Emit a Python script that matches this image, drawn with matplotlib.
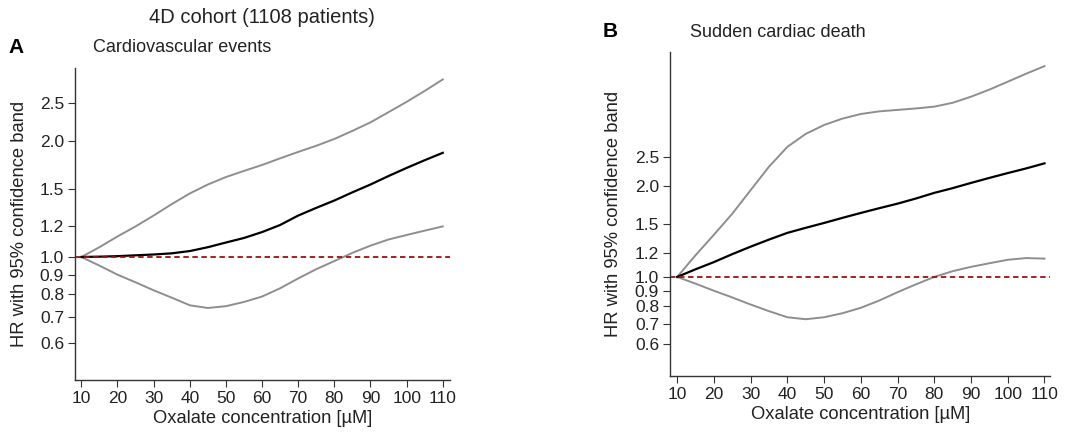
import numpy as np
import matplotlib
matplotlib.use('Agg')
import matplotlib.pyplot as plt

plt.rcParams['font.family'] = ['Liberation Sans', 'DejaVu Sans']

# oxalate concentration (uM)
oxalate = [10, 15, 20, 25, 30, 35, 40, 45, 50, 55, 60, 65, 70, 75, 80, 85, 90, 95, 100, 105, 110]

# A: cardiovascular events
cv_hr = [1.0, 1.002, 1.005, 1.01, 1.015, 1.022, 1.036, 1.06, 1.09, 1.12, 1.16,
         1.21, 1.28, 1.34, 1.40, 1.47, 1.54, 1.62, 1.70, 1.78, 1.86]
cv_upper = [1.0, 1.06, 1.13, 1.20, 1.28, 1.37, 1.46, 1.54, 1.61, 1.67, 1.73,
            1.80, 1.87, 1.94, 2.02, 2.12, 2.23, 2.37, 2.52, 2.69, 2.88]
cv_lower = [1.0, 0.95, 0.90, 0.86, 0.82, 0.785, 0.75, 0.738, 0.746, 0.765, 0.79,
            0.83, 0.88, 0.93, 0.976, 1.025, 1.07, 1.11, 1.14, 1.17, 1.20]

# B: sudden cardiac death
scd_hr = [1.0, 1.06, 1.12, 1.19, 1.26, 1.33, 1.40, 1.455, 1.51, 1.57, 1.63,
          1.69, 1.75, 1.82, 1.90, 1.97, 2.05, 2.13, 2.21, 2.29, 2.38]
scd_upper = [1.0, 1.18, 1.38, 1.62, 1.94, 2.32, 2.70, 2.98, 3.19, 3.35, 3.47,
             3.54, 3.58, 3.62, 3.67, 3.78, 3.96, 4.18, 4.44, 4.72, 5.0]
scd_lower = [1.0, 0.95, 0.90, 0.855, 0.81, 0.77, 0.735, 0.724, 0.735, 0.758, 0.79,
             0.835, 0.89, 0.945, 1.0, 1.045, 1.08, 1.11, 1.14, 1.155, 1.15]

yticks = [0.6, 0.7, 0.8, 0.9, 1.0, 1.2, 1.5, 2.0, 2.5]
xticks = list(range(10, 111, 10))

fig = plt.figure(figsize=(10.74, 4.37), dpi=100)
axA = fig.add_axes([0.070, 0.130, 0.349, 0.714])
axB = fig.add_axes([0.624, 0.140, 0.354, 0.741])


def panel(ax, hr, upper, lower, ylim, xlim):
    ax.plot(oxalate, upper, color='#8e8e8e', lw=1.4)
    ax.plot(oxalate, lower, color='#8e8e8e', lw=1.4)
    ax.plot(oxalate, hr, color='black', lw=1.6)
    ax.axhline(1.0, color='#a01010', lw=1.3, ls=(0, (3, 2)))
    ax.set_yscale('log')
    ax.set_ylim(*ylim)
    ax.set_xlim(*xlim)
    ax.set_yticks(yticks)
    ax.set_yticklabels(['%.1f' % v for v in yticks])
    ax.minorticks_off()
    ax.set_xticks(xticks)
    for s in ['top', 'right']:
        ax.spines[s].set_visible(False)
    for s in ['left', 'bottom']:
        ax.spines[s].set_color('#333333')
        ax.spines[s].set_linewidth(1.0)
    ax.tick_params(labelsize=12.5, length=5, pad=3, color='#333333', labelcolor='#222222')
    ax.set_xlabel('Oxalate concentration [µM]', fontsize=13.2, color='#222222', labelpad=3)
    ax.set_ylabel('HR with 95% confidence band', fontsize=13.2, color='#222222')


panel(axA, cv_hr, cv_upper, cv_lower, (0.48, 3.08), (8.3, 112))
panel(axB, scd_hr, scd_upper, scd_lower, (0.47, 5.57), (8.1, 111.6))
axA.yaxis.set_label_coords(-0.125, 0.5)
axB.yaxis.set_label_coords(-0.126, 0.5)

fig.text(0.244, 0.959, '4D cohort (1108 patients)', ha='center', va='center', fontsize=14.5, color='#222222')
fig.text(0.008, 0.892, 'A', ha='left', va='center', fontsize=15, fontweight='bold')
fig.text(0.087, 0.892, 'Cardiovascular events', ha='left', va='center', fontsize=13, color='#222222')
fig.text(0.561, 0.927, 'B', ha='left', va='center', fontsize=15, fontweight='bold')
fig.text(0.642, 0.925, 'Sudden cardiac death', ha='left', va='center', fontsize=13, color='#222222')

fig.savefig('out.png', dpi=100)
